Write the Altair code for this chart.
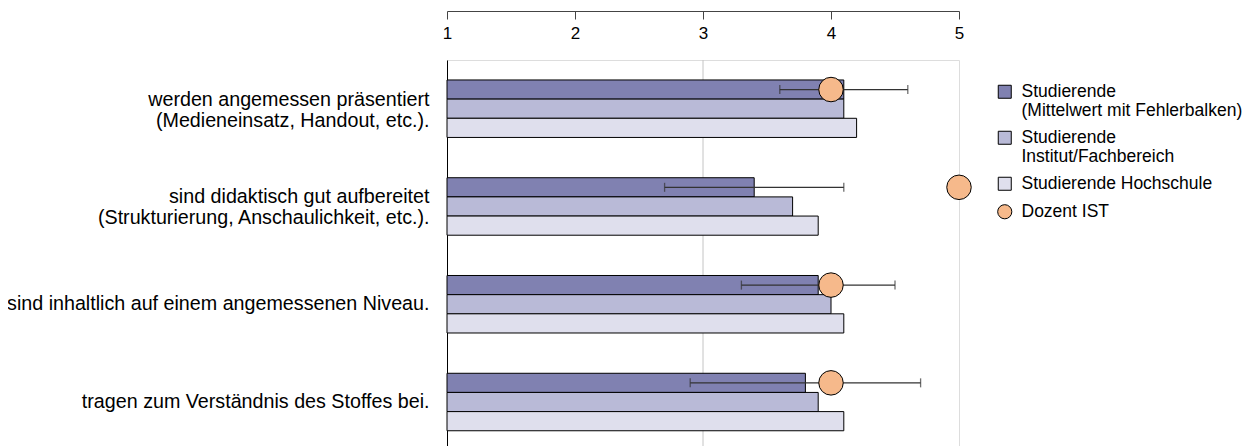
import altair as alt
import pandas as pd

questions = [
    "werden angemessen präsentiert\n(Medieneinsatz, Handout, etc.).",
    "sind didaktisch gut aufbereitet\n(Strukturierung, Anschaulichkeit, etc.).",
    "sind inhaltlich auf einem angemessenen Niveau.",
    "tragen zum Verständnis des Stoffes bei.",
]
series_names = [
    "Studierende\n(Mittelwert mit Fehlerbalken)",
    "Studierende\nInstitut/Fachbereich",
    "Studierende Hochschule",
]
series_colors = ["#8081b1", "#b9bad7", "#dfdfed"]
mittelwert = [4.1, 3.4, 3.9, 3.8]
institut = [4.1, 3.7, 4.0, 3.9]
hochschule = [4.2, 3.9, 4.1, 4.1]
err_lo = [3.6, 2.7, 3.3, 2.9]
err_hi = [4.6, 4.1, 4.5, 4.7]
dozent_name = "Dozent IST"
dozent = [4.0, 5.0, 4.0, 4.0]
x_ticks = [1, 2, 3, 4, 5]
grid_at = [3]

rows = []
for vals, s in zip([mittelwert, institut, hochschule], series_names):
    for q, v in zip(questions, vals):
        rows.append({"q": q, "series": s, "value": v})
bars_df = pd.DataFrame(rows)
err_df = pd.DataFrame({"q": questions, "series": series_names[0], "lo": err_lo, "hi": err_hi})
doz_df = pd.DataFrame({"q": questions, "series": series_names[0], "who": dozent_name, "value": dozent})
grid_df = pd.DataFrame({"g": grid_at})

xscale = alt.Scale(domain=[1, 5], nice=False, zero=False)
yscale = alt.Scale(domain=questions, paddingInner=0.412, paddingOuter=0.18, align=0.567)
yoff = alt.Scale(domain=series_names, paddingInner=0, paddingOuter=0)

x_axis = alt.Axis(orient="bottom", offset=-435, values=x_ticks, format="d", tickSize=8,
                  labelPadding=6, labelFontSize=17, labelColor="#000", domainColor="#444",
                  tickColor="#444", grid=False, title=None, labelFont="Liberation Sans",
                  labelFlush=False)
y_axis = alt.Axis(title=None, ticks=False, domainColor="#000", labelFontSize=19.7,
                  labelPadding=18, labelLimit=0, labelColor="#000", labelLineHeight=21,
                  labelExpr="split(datum.label, '\\n')", labelFont="Liberation Sans",
                  labelOffset=alt.condition("indexof(datum.value, '\\n') >= 0",
                                            alt.value(-9), alt.value(0)))

grid = alt.Chart(grid_df).mark_rule(color="#c4c4c4", strokeWidth=1).encode(
    x=alt.X("g:Q", scale=xscale, axis=x_axis)
)

bars = alt.Chart(bars_df).mark_bar(stroke="#000", strokeWidth=1).encode(
    x=alt.X("value:Q", scale=xscale, axis=x_axis),
    x2=alt.X2Datum(1),
    y=alt.Y("q:N", scale=yscale, axis=y_axis, sort=questions),
    yOffset=alt.YOffset("series:N", scale=yoff, sort=series_names),
    fill=alt.Fill("series:N", scale=alt.Scale(domain=series_names, range=series_colors),
                  legend=alt.Legend(title=None, orient="none", legendX=549, legendY=23,
                                    symbolType="square", symbolSize=169, symbolStrokeColor="#000",
                                    symbolStrokeWidth=1, labelFontSize=17.5, labelLimit=0,
                                    labelFont="Liberation Sans", labelColor="#000",
                                    labelExpr="split(datum.label, '\\n')", rowPadding=8,
                                    labelOffset=8)),
)

err_rule = alt.Chart(err_df).mark_rule(color="#333", strokeWidth=1.3).encode(
    x=alt.X("lo:Q", scale=xscale),
    x2="hi:Q",
    y=alt.Y("q:N", scale=yscale, sort=questions),
    yOffset=alt.YOffset("series:N", scale=yoff),
)
err_lo_tick = alt.Chart(err_df).mark_tick(color="#333", size=9, thickness=1.3).encode(
    x=alt.X("lo:Q", scale=xscale),
    y=alt.Y("q:N", scale=yscale, sort=questions),
    yOffset=alt.YOffset("series:N", scale=yoff),
)
err_hi_tick = alt.Chart(err_df).mark_tick(color="#333", size=9, thickness=1.3).encode(
    x=alt.X("hi:Q", scale=xscale),
    y=alt.Y("q:N", scale=yscale, sort=questions),
    yOffset=alt.YOffset("series:N", scale=yoff),
)

circles = alt.Chart(doz_df).mark_circle(size=600, stroke="#000", strokeWidth=1, opacity=1).encode(
    x=alt.X("value:Q", scale=xscale),
    y=alt.Y("q:N", scale=yscale, sort=questions),
    yOffset=alt.YOffset("series:N", scale=yoff),
    color=alt.Color("who:N", scale=alt.Scale(domain=[dozent_name], range=["#f6b98b"]),
                    legend=alt.Legend(title=None, orient="none", legendX=549, legendY=143,
                                      symbolType="circle", symbolSize=200, symbolStrokeColor="#000",
                                      symbolStrokeWidth=1, labelFontSize=17.5, labelLimit=0,
                                      labelFont="Liberation Sans", labelColor="#000",
                                      labelOffset=8)),
)

chart = alt.layer(grid, bars, err_rule, err_lo_tick, err_hi_tick, circles).properties(
    width=512, height=386,
    autosize=alt.AutoSizeParams(type="none"),
    padding={"left": 439, "top": 52, "right": 290, "bottom": 0},
).configure_view(stroke=None).configure(font="Liberation Sans")

chart.save("out.html", embed_options={"renderer": "svg", "actions": False})
